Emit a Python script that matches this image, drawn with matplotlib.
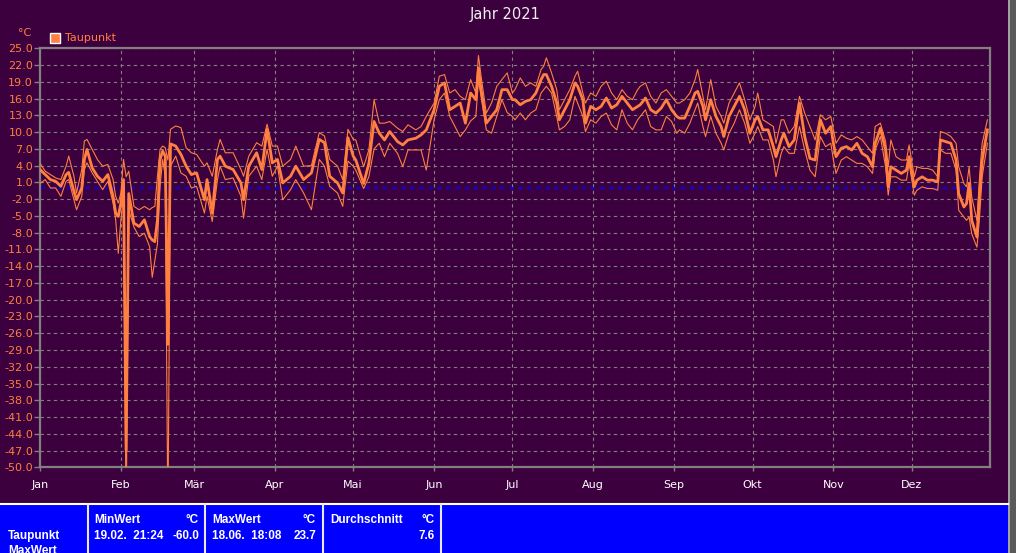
import numpy as np
import matplotlib
matplotlib.use("Agg")
import matplotlib.pyplot as plt
from matplotlib.patches import Rectangle

# Taupunkt 2021 - Tageswerte (Tag im Jahr, Mittel, Min, Max)
days = [0, 2, 4, 6, 8, 10, 11, 13, 14, 16, 17, 18, 20, 22, 24, 26, 28, 29, 30, 31,
        32, 33, 34, 36, 38, 40, 42, 43, 44, 45, 46, 47, 48, 49, 50, 52, 54, 56, 58, 60,
        63, 64, 66, 68, 69, 71, 74, 77, 78, 80, 83, 85, 87, 89, 91, 93, 96, 98, 101, 104,
        107, 109, 111, 114, 116, 118, 120, 121, 124, 126, 128, 130, 132, 134, 137, 139, 141, 144, 146, 148,
        151, 153, 155, 157, 159, 161, 163, 165, 167, 168, 169, 171, 173, 175, 177, 179, 181, 182, 184, 186,
        188, 190, 192, 193, 194, 196, 198, 199, 201, 203, 205, 206, 208, 209, 211, 213, 215, 217, 219, 221,
        223, 225, 227, 229, 230, 232, 234, 236, 238, 240, 242, 244, 245, 247, 249, 251, 252, 254, 255, 257,
        259, 261, 262, 264, 266, 268, 270, 272, 274, 275, 277, 279, 281, 282, 284, 285, 287, 289, 291, 293,
        295, 297, 299, 301, 303, 304, 305, 307, 309, 311, 313, 315, 317, 319, 320, 322, 324, 325, 326, 328,
        330, 332, 333, 335, 336, 338, 340, 342, 344, 345, 347, 349, 351, 352, 354, 355, 356, 357, 359, 360,
        361, 363]

tp_avg = [3.3, 2.4, 1.5, 1.2, 0.3, 2.4, 2.8, -0.6, -2.1, 0.0, 5.1, 6.9, 3.6, 2.1, 1.2, 2.4, -1.5, -4.5, -5.1, -2.7,
          1.5, -47.0, -1.0, -6.3, -6.9, -5.7, -8.7, -9.3, -9.6, -5.7, 5.1, 6.6, 5.7, -28.0, 7.9, 7.5, 6.0, 3.9, 2.4, 2.7,
          -2.1, 1.5, -4.5, 5.1, 5.7, 3.9, 3.3, 0.9, -2.1, 3.9, 6.3, 3.3, 10.5, 4.5, 5.1, 0.9, 2.1, 3.9, 1.5, 2.7,
          8.7, 8.1, 2.1, 0.9, -0.9, 9.0, 5.7, 5.0, 0.8, 4.4, 11.9, 9.8, 8.6, 10.1, 8.3, 7.7, 8.6, 8.9, 9.5, 10.4,
          14.0, 18.2, 18.8, 14.0, 14.6, 15.2, 11.6, 17.0, 15.8, 21.5, 17.6, 11.6, 12.8, 14.0, 17.6, 17.6, 15.8, 15.8, 14.9, 15.5,
          15.8, 17.0, 19.4, 20.3, 20.3, 18.2, 15.2, 12.2, 14.0, 15.8, 18.8, 18.2, 15.8, 11.6, 14.6, 14.0, 14.6, 16.1, 14.3, 14.9,
          16.4, 15.2, 14.0, 14.6, 14.9, 16.1, 14.0, 13.4, 14.3, 15.8, 14.0, 12.8, 12.5, 12.5, 14.6, 17.0, 17.3, 14.6, 12.2, 15.8,
          12.8, 11.0, 9.2, 12.8, 14.6, 16.4, 14.0, 9.8, 12.2, 12.8, 10.4, 10.4, 7.4, 5.6, 8.6, 9.8, 7.4, 8.6, 15.2, 9.2,
          5.3, 5.0, 12.2, 9.8, 11.0, 8.0, 5.6, 7.1, 7.4, 6.8, 8.0, 6.2, 5.6, 3.8, 8.0, 10.7, 6.8, 0.2, 3.8, 3.2,
          2.6, 3.2, 5.6, 0.2, 1.4, 2.0, 1.4, 1.4, 1.1, 8.6, 8.3, 8.0, 5.0, -1.0, -3.4, -2.8, 0.8, -5.8, -8.8, -1.0,
          5.0, 10.4]

tp_min = [0.8, 1.5, 0.0, 0.0, -1.5, 1.2, 1.5, -2.1, -3.9, -1.5, 3.3, 4.5, 2.7, 1.2, -0.3, 1.2, -2.7, -5.7, -11.7, -5.7,
          -1.5, -60.0, -4.0, -7.0, -8.7, -8.1, -10.5, -16.0, -13.0, -10.0, 0.3, 5.1, 2.1, -60.0, 3.9, 5.7, 2.7, 2.1, 0.0, 0.3,
          -4.5, -1.5, -6.0, 1.5, 3.9, 1.5, 1.8, -1.5, -5.4, 2.1, 3.9, 1.5, 6.9, 2.1, 3.9, -2.1, -0.3, 1.5, -0.9, -3.9,
          5.1, 3.9, 0.3, -0.9, -3.3, 4.8, 3.9, 3.2, -0.1, 2.0, 7.0, 8.0, 5.6, 8.0, 6.2, 3.8, 6.8, 6.8, 6.8, 3.2,
          12.2, 15.8, 17.0, 12.8, 11.0, 9.2, 10.4, 12.0, 12.8, 19.4, 16.4, 10.4, 9.8, 12.8, 15.8, 13.5, 12.8, 12.2, 13.4, 12.2,
          13.4, 14.0, 17.0, 17.6, 18.2, 17.0, 12.8, 10.4, 11.0, 12.2, 16.4, 15.2, 12.8, 10.1, 12.2, 11.6, 12.8, 13.4, 11.3, 10.4,
          14.0, 11.6, 10.4, 12.2, 12.8, 14.0, 11.0, 10.4, 10.4, 12.8, 11.9, 9.8, 10.4, 9.8, 11.6, 14.0, 15.2, 11.0, 9.2, 12.8,
          9.8, 8.0, 6.8, 9.8, 11.6, 14.0, 11.6, 8.0, 9.8, 11.0, 8.6, 8.6, 5.0, 2.0, 6.2, 7.4, 6.2, 6.2, 11.0, 6.8,
          3.2, 2.0, 9.2, 7.4, 8.0, 5.0, 2.6, 5.0, 5.6, 5.0, 4.4, 4.4, 3.8, 2.6, 6.8, 9.2, 3.8, -1.3, 2.0, 2.0,
          1.4, 1.4, 4.4, -1.3, -0.4, 0.2, -0.1, -0.1, -0.4, 6.8, 6.2, 6.2, 3.2, -4.0, -5.2, -5.8, -5.2, -8.2, -10.6, -5.2,
          2.0, 8.0]

tp_max = [4.4, 3.0, 2.4, 1.8, 1.5, 3.9, 5.7, 2.1, -0.9, 3.3, 8.4, 8.7, 6.9, 5.1, 3.9, 4.2, 1.5, -1.5, -2.7, -0.9,
          5.1, 2.0, 3.0, -3.3, -3.9, -3.3, -3.9, -3.5, -3.3, 2.1, 6.9, 7.5, 7.2, 5.0, 10.5, 11.1, 10.8, 7.2, 6.3, 6.0,
          3.9, 4.5, 2.1, 6.9, 8.7, 6.3, 6.3, 3.3, 2.1, 5.7, 8.1, 7.5, 11.4, 7.5, 7.5, 3.9, 5.1, 7.5, 3.9, 4.0,
          9.9, 9.3, 5.1, 3.9, 1.5, 10.5, 8.7, 8.6, 3.8, 6.8, 15.8, 11.6, 11.6, 11.9, 10.7, 10.1, 11.3, 10.4, 11.0, 12.8,
          15.2, 20.0, 20.3, 17.0, 17.6, 16.4, 15.8, 19.4, 17.0, 23.7, 20.0, 13.4, 15.2, 18.2, 19.4, 20.6, 17.0, 17.6, 19.7, 18.2,
          18.8, 18.2, 21.2, 21.8, 23.3, 20.6, 17.6, 14.0, 15.8, 17.6, 20.0, 20.9, 17.0, 15.2, 17.0, 16.4, 18.2, 19.1, 17.0, 15.8,
          17.6, 16.4, 15.8, 17.6, 18.2, 18.8, 16.4, 15.2, 17.0, 17.6, 16.4, 15.2, 15.2, 15.8, 17.0, 19.4, 21.2, 16.4, 14.0, 19.4,
          14.6, 12.8, 11.6, 15.2, 17.0, 18.8, 15.8, 12.2, 14.6, 17.0, 12.2, 11.6, 11.0, 8.0, 12.2, 12.2, 9.8, 11.0, 16.4, 13.4,
          11.0, 8.6, 13.1, 12.2, 12.8, 10.4, 8.0, 9.5, 8.9, 8.6, 9.2, 8.6, 7.4, 6.2, 11.0, 11.6, 8.3, 3.8, 8.6, 5.6,
          5.0, 5.0, 7.7, 2.0, 3.8, 3.5, 3.5, 3.2, 2.0, 10.1, 9.8, 9.2, 8.0, 3.8, 0.8, 0.2, 3.8, -1.6, -5.8, 2.0,
          8.0, 12.2]

month_days = [0, 31, 59, 90, 120, 151, 181, 212, 243, 273, 304, 334]
month_labels = ["Jan", "Feb", "Mär", "Apr", "Mai", "Jun", "Jul", "Aug", "Sep", "Okt", "Nov", "Dez"]
y_ticks = np.arange(25.0, -50.1, -3.0)

BG = "#3d003e"
ORANGE = "#ff8040"
GRID = "#808080"

fig = plt.figure(figsize=(10.16, 5.53), dpi=100, facecolor=BG)
ax = fig.add_axes([40 / 1016, 1 - 467.3 / 553, 950 / 1016, (467.3 - 48.3) / 553])
ax.set_facecolor(BG)

ax.plot(days, tp_min, color=ORANGE, lw=0.8, zorder=3)
ax.plot(days, tp_max, color=ORANGE, lw=0.8, zorder=3)
ax.plot(days, tp_avg, color=ORANGE, lw=2.0, zorder=4)
ax.axhline(0, color="#0000ff", lw=1.3, ls=(0, (2.5, 2.5)), zorder=2)

ax.set_xlim(0, 364)
ax.set_ylim(-50, 25)
ax.set_yticks(y_ticks)
ax.set_yticklabels(["%.1f" % v for v in y_ticks])
ax.set_xticks(month_days)
ax.set_xticklabels(month_labels)
ax.tick_params(axis="y", colors=GRID, labelcolor=ORANGE, labelsize=8, length=4, width=1, pad=1)
ax.tick_params(axis="x", colors=GRID, labelcolor="white", labelsize=8, length=3, width=1, pad=6)
ax.grid(True, color=GRID, lw=0.8, ls=(0, (3, 3)), zorder=1)
for s in ax.spines.values():
    s.set_color(GRID)
    s.set_linewidth(1.6)

# overlay in pixel coords for title, legend and the table at the bottom
ov = fig.add_axes([0, 0, 1, 1], facecolor="none")
ov.set_xlim(0, 1016)
ov.set_ylim(553, 0)
ov.axis("off")

ov.text(505, 15, "Jahr 2021", color="#f0f0f0", fontsize=10.5, ha="center", va="center")
ov.text(25, 33, "°C", color=ORANGE, fontsize=8, ha="center", va="center")
ov.add_patch(Rectangle((50, 33), 10, 10, facecolor=ORANGE, edgecolor="white", lw=1))
ov.text(65, 38, "Taupunkt", color=ORANGE, fontsize=8, ha="left", va="center")

# right hand gray strip
ov.add_patch(Rectangle((1008, 0), 8, 553, facecolor="#5a5a5a", edgecolor="none"))
ov.plot([1009, 1009], [0, 553], color="#b0b0b0", lw=1.2)

# blue table
ov.add_patch(Rectangle((0, 504), 1008, 49, facecolor="#0000ff", edgecolor="none"))
ov.plot([0, 1008], [504, 504], color="white", lw=1.5)
for xs in [87.5, 204.5, 322.5, 440.5]:
    ov.plot([xs, xs], [504, 553], color="#e8e8e8", lw=1.5)

tf = dict(color="white", fontsize=8.5, fontweight="bold", family="Liberation Sans", va="center")
ov.text(8, 536, "Taupunkt", ha="left", **tf)
ov.text(8, 551, "MaxWert", ha="left", **tf)
cells = [(94, 199, "MinWert", "19.02.  21:24", "-60.0"),
         (212, 316, "MaxWert", "18.06.  18:08", "23.7"),
         (330, 435, "Durchschnitt", "", "7.6")]
for x0, x1, head, when, val in cells:
    ov.text(x0, 520, head, ha="left", **tf)
    ov.text(x1, 520, "°C", ha="right", **tf)
    ov.text(x0, 536, when, ha="left", **tf)
    ov.text(x1, 536, val, ha="right", **tf)

fig.savefig("out.png", dpi=100, facecolor=BG)
